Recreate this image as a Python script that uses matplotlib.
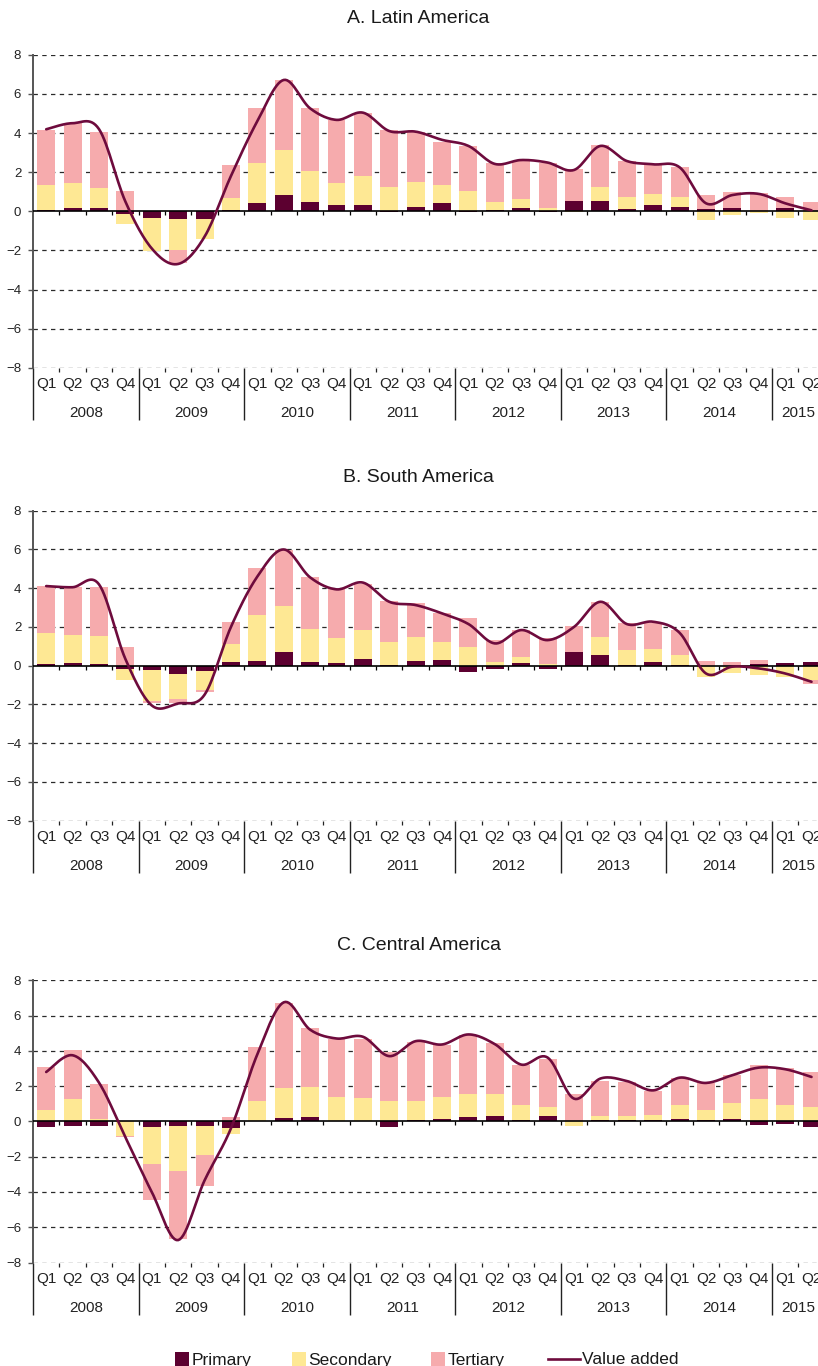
import numpy as np
import matplotlib
matplotlib.use('Agg')
import matplotlib.pyplot as plt
from matplotlib.patches import Rectangle
from matplotlib.lines import Line2D

plt.rcParams['font.family'] = ['Liberation Sans', 'DejaVu Sans']

# 2008Q1 .. 2015Q2
anos = ['2008', '2009', '2010', '2011', '2012', '2013', '2014', '2015']
trimestres = ['Q1', 'Q2', 'Q3', 'Q4'] * 7 + ['Q1', 'Q2']

titulos = ['A. Latin America', 'B. South America', 'C. Central America']

# --- A. Latin America ---
a_primario = [0.08, 0.17, 0.17, -0.14, -0.36, -0.39, -0.37, 0.05, 0.41, 0.85, 0.46, 0.32, 0.32, -0.05, 0.24,
              0.44, -0.05, 0.07, 0.17, -0.05, 0.53, 0.53, 0.12, 0.32, 0.20, 0.12, 0.17, 0.03, 0.17, 0.02]
a_secundario = [1.27, 1.26, 1.02, -0.49, -1.65, -1.59, -1.04, 0.65, 2.08, 2.28, 1.58, 1.15, 1.49, 1.26, 1.28,
                0.91, 1.04, 0.39, 0.44, 0.17, -0.05, 0.73, 0.60, 0.55, 0.55, -0.44, -0.19, -0.10, -0.36, -0.44]
a_terciario = [2.81, 3.07, 2.88, 1.06, 0.00, -0.68, 0.00, 1.67, 2.81, 3.58, 3.24, 3.20, 3.20, 2.90, 2.55,
               2.21, 2.30, 1.99, 1.96, 2.32, 1.63, 2.13, 1.85, 1.52, 1.53, 0.71, 0.80, 0.89, 0.56, 0.47]
a_valor = [4.19, 4.50, 4.20, 0.50, -1.90, -2.69, -1.30, 1.80, 4.60, 6.71, 5.26, 4.67, 5.04, 4.10, 4.07,
           3.65, 3.34, 2.42, 2.62, 2.49, 2.11, 3.34, 2.57, 2.40, 2.25, 0.41, 0.83, 0.89, 0.41, 0.05]

# --- B. South America ---
b_primario = [0.09, 0.15, 0.09, -0.17, -0.21, -0.41, -0.26, 0.21, 0.24, 0.69, 0.19, 0.12, 0.33, 0.02, 0.24,
              0.29, -0.34, -0.17, 0.12, -0.19, 0.69, 0.57, 0.02, 0.19, 0.05, 0.00, 0.00, 0.07, 0.14, 0.17]
b_secundario = [1.58, 1.43, 1.44, -0.57, -1.63, -1.29, -1.00, 0.91, 2.38, 2.39, 1.69, 1.31, 1.51, 1.20, 1.24,
                0.93, 0.98, 0.17, 0.31, 0.09, 0.00, 0.91, 0.79, 0.67, 0.50, -0.57, -0.36, -0.46, -0.60, -0.74]
b_terciario = [2.44, 2.50, 2.52, 0.96, -0.07, -0.21, -0.10, 1.15, 2.42, 2.89, 2.72, 2.51, 2.38, 2.12, 1.74,
               1.48, 1.48, 1.14, 1.41, 1.32, 1.36, 1.81, 1.38, 1.33, 1.29, 0.24, 0.21, 0.21, 0.00, -0.22]
b_valor = [4.11, 4.05, 4.20, 0.35, -2.05, -1.95, -1.50, 2.00, 4.60, 6.00, 4.56, 3.94, 4.29, 3.30, 3.13,
           2.70, 2.15, 1.15, 1.84, 1.32, 2.00, 3.30, 2.15, 2.27, 1.70, -0.40, -0.05, -0.14, -0.40, -0.83]

# --- C. Central America ---
c_primario = [-0.32, -0.28, -0.28, 0.00, -0.32, -0.25, -0.28, -0.40, 0.02, 0.19, 0.25, 0.02, 0.02, -0.32, 0.06,
              0.11, 0.23, 0.32, 0.08, 0.28, 0.00, 0.06, 0.06, 0.08, 0.11, 0.08, 0.13, -0.19, -0.13, -0.32]
c_secundario = [0.63, 1.25, 0.11, -0.80, -2.09, -2.54, -1.65, -0.30, 1.12, 1.72, 1.68, 1.36, 1.31, 1.14, 1.08,
                1.25, 1.32, 1.25, 0.87, 0.54, -0.28, 0.26, 0.26, 0.30, 0.84, 0.55, 0.93, 1.25, 0.95, 0.80]
c_terciario = [2.46, 2.79, 2.03, -0.09, -2.04, -3.88, -1.75, 0.23, 3.05, 4.78, 3.38, 3.32, 3.33, 2.80, 3.37,
               2.96, 3.34, 2.85, 2.23, 2.74, 1.54, 1.95, 1.92, 1.35, 1.53, 1.55, 1.56, 1.95, 2.10, 2.00]
c_valor = [2.80, 3.75, 2.20, -0.90, -4.00, -6.73, -3.35, -0.40, 3.80, 6.75, 5.20, 4.70, 4.80, 3.70, 4.55,
           4.36, 4.93, 4.38, 3.22, 3.62, 1.29, 2.43, 2.29, 1.76, 2.48, 2.18, 2.62, 3.05, 2.96, 2.52]

paineis = [
    (a_primario, a_secundario, a_terciario, a_valor),
    (b_primario, b_secundario, b_terciario, b_valor),
    (c_primario, c_secundario, c_terciario, c_valor),
]

NOMES = ['Primary', 'Secondary', 'Tertiary']
CORES = ['#5c0030', '#fee894', '#f6abad']
COR_LINHA = '#6e0b3d'

W, H = 818, 1366
# posicoes em pixels: topo (y=8) e base (y=-8) de cada painel, e centro do titulo
TOPO = [54.7, 510.7, 980.3]
BASE = [367.9, 820.7, 1262.5]
TITULO_Y = [18.8, 477, 946]
X0 = 33
LARG_Q = 26.39


def suavizar(x, y, n=16):
    # curva suavizada tipo excel (bezier com controles a 1/6 dos vizinhos)
    pts = np.column_stack([x, y]).astype(float)
    out = [pts[0]]
    for i in range(len(pts) - 1):
        p0 = pts[i - 1] if i > 0 else pts[i]
        p1, p2 = pts[i], pts[i + 1]
        p3 = pts[i + 2] if i + 2 < len(pts) else pts[i + 1]
        c1 = p1 + (p2 - p0) / 6
        c2 = p2 - (p3 - p1) / 6
        t = np.linspace(0, 1, n)[1:, None]
        seg = (1 - t) ** 3 * p1 + 3 * (1 - t) ** 2 * t * c1 + 3 * (1 - t) * t ** 2 * c2 + t ** 3 * p2
        out.extend(seg)
    out = np.array(out)
    return out[:, 0], out[:, 1]


fig = plt.figure(figsize=(W / 100, H / 100), dpi=100)
x = np.arange(len(trimestres))
xmax = -0.5 + (W - X0) / LARG_Q

for k, (prim, sec, ter, valor) in enumerate(paineis):
    bottom = 1 - BASE[k] / H
    altura = (BASE[k] - TOPO[k]) / H
    ax = fig.add_axes([X0 / W, bottom, 1 - X0 / W, altura])
    h_px = BASE[k] - TOPO[k]
    px = 1 / h_px  # um pixel em fracao do eixo

    # barras empilhadas (positivos e negativos separados)
    pos = np.zeros(len(x))
    neg = np.zeros(len(x))
    for serie, cor in zip((prim, sec, ter), CORES):
        v = np.array(serie)
        base = np.where(v >= 0, pos, neg)
        ax.bar(x, v, bottom=base, width=0.68, color=cor, zorder=2, linewidth=0)
        pos = np.where(v >= 0, pos + v, pos)
        neg = np.where(v < 0, neg + v, neg)

    xs, ys = suavizar(x, valor)
    ax.plot(xs, ys, color=COR_LINHA, lw=1.9, zorder=4, solid_capstyle='round')

    for g in range(-8, 9, 2):
        if g != 0:
            ax.axhline(g, color='#2a2a2a', lw=0.9, ls=(0, (3.5, 3.5)), zorder=0.5)
    ax.axhline(0, color='black', lw=1.2, zorder=3)

    trans = ax.get_xaxis_transform()
    y0 = (0 - (-8)) / 16
    fronteiras = np.arange(len(x) - 1) + 0.5
    ax.vlines(fronteiras, y0 - 4 * px, y0, transform=trans, color='black', lw=0.9, zorder=3)

    # eixo de categorias na base
    internas = [f for i, f in enumerate(fronteiras) if i % 4 != 3]
    ax.vlines(internas, -4 * px, 0, transform=trans, color='#222222', lw=0.9, clip_on=False)
    anuais = np.arange(-0.5, len(x), 4)
    ax.vlines(anuais, -52 * px, 0, transform=trans, color='#222222', lw=1.0, clip_on=False)
    for i, q in enumerate(trimestres):
        ax.text(i, -16 * px, q, transform=trans, ha='center', va='center',
                fontsize=11, color='#222222', clip_on=False)
    for j, ano in enumerate(anos):
        centro = j * 4 + 1.5 if j < 7 else 28.5
        ax.text(centro, -45 * px, ano, transform=trans, ha='center', va='center',
                fontsize=11, color='#222222', clip_on=False)

    ax.set_xlim(-0.5, xmax)
    ax.set_ylim(-8, 8)
    ax.set_xticks([])
    ax.set_yticks(range(-8, 9, 2))
    ax.tick_params(axis='y', direction='out', length=3.5, width=1, color='#555555',
                   labelsize=9.5, labelcolor='#222222', pad=5)
    for s in ('top', 'right', 'bottom'):
        ax.spines[s].set_visible(False)
    ax.spines['left'].set_color('#555555')
    ax.spines['left'].set_linewidth(1.4)
    ax.patch.set_alpha(0)

    fig.text(418.5 / W, 1 - TITULO_Y[k] / H, titulos[k], ha='center', va='center',
             fontsize=14, color='#1a1a1a')

# legenda manual na base da figura
lado = 13.6
base_leg = 1365.5
quadrados = [175, 292, 431]
for xq, nome, cor in zip(quadrados, NOMES, CORES):
    fig.add_artist(Rectangle(((xq) / W, 1 - (base_leg) / H), lado / W, lado / H,
                             transform=fig.transFigure, color=cor, lw=0))
    fig.text((xq + lado + 3) / W, 1 - (base_leg - 1) / H, nome, ha='left', va='baseline',
             fontsize=12.5, color='#1a1a1a')
fig.add_artist(Line2D([548 / W, 580 / W], [1 - 1358.5 / H] * 2, transform=fig.transFigure,
                      color=COR_LINHA, lw=1.9))
fig.text(582 / W, 1 - (base_leg - 1) / H, 'Value added', ha='left', va='baseline',
         fontsize=12.5, color='#1a1a1a')

fig.savefig('out.png', dpi=100)
